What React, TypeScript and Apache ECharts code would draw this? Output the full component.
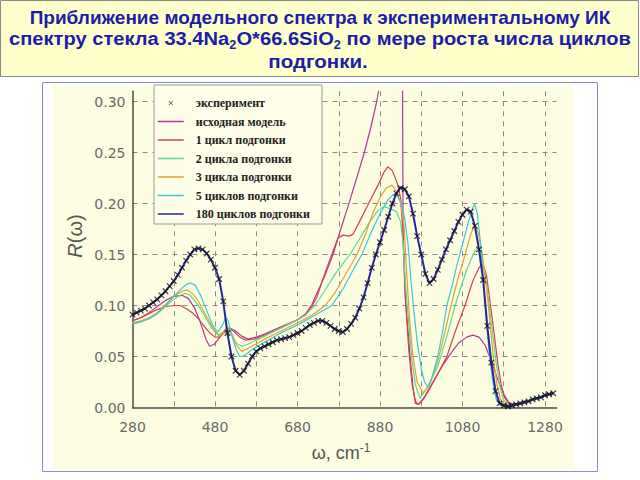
import React, { useEffect, useRef } from "react";
import * as echarts from "echarts";

// ---- data ----
const xTicks = [280, 480, 680, 880, 1080, 1280];
const yTicks = [0, 0.05, 0.1, 0.15, 0.2, 0.25, 0.3];

const seriesNames = [
  "эксперимент",
  "исходная модель",
  "1 цикл подгонки",
  "2 цикла подгонки",
  "3 цикла подгонки",
  "5 циклов подгонки",
  "180 циклов подгонки",
];

const expX = [
  280, 290, 300, 310, 320, 330, 340, 350, 360, 370, 380, 390, 400, 410, 420, 430, 440, 450, 460, 470,
  480, 490, 500, 510, 520, 530, 540, 550, 560, 570, 580, 590, 600, 610, 620, 630, 640, 650, 660, 670,
  680, 690, 700, 710, 720, 730, 740, 750, 760, 770, 780, 790, 800, 810, 820, 830, 840, 850, 860, 870,
  880, 890, 900, 910, 920, 930, 940, 950, 960, 970, 980, 990, 1000, 1010, 1020, 1030, 1040, 1050, 1060, 1070,
  1080, 1090, 1100, 1110, 1120, 1130, 1140, 1150, 1160, 1170, 1180, 1190, 1200, 1210, 1220, 1230, 1240, 1250, 1260, 1270,
  1280, 1290, 1300,
];

const expR = [
  0.091, 0.093, 0.095, 0.097, 0.1, 0.103, 0.106, 0.11, 0.114, 0.119, 0.124, 0.13, 0.137, 0.144, 0.15, 0.155, 0.156, 0.155, 0.151, 0.145,
  0.137, 0.126, 0.104, 0.073, 0.05, 0.036, 0.032, 0.036, 0.043, 0.05, 0.055, 0.058, 0.06, 0.062, 0.064, 0.066, 0.067, 0.068, 0.069, 0.071,
  0.073, 0.075, 0.078, 0.081, 0.083, 0.085, 0.085, 0.083, 0.08, 0.077, 0.075, 0.074, 0.077, 0.082, 0.088, 0.097, 0.108, 0.122, 0.137, 0.15,
  0.162, 0.174, 0.187, 0.2, 0.21, 0.215, 0.214, 0.207, 0.19, 0.168, 0.15, 0.131, 0.122, 0.126, 0.135, 0.145, 0.155, 0.164, 0.173, 0.182,
  0.189, 0.194, 0.192, 0.178, 0.155, 0.125, 0.08, 0.044, 0.016, 0.004, 0.002, 0.001, 0.002, 0.003, 0.004, 0.005, 0.006, 0.008, 0.009, 0.01,
  0.012, 0.013, 0.014,
];

const fit180R = [
  0.091, 0.093, 0.095, 0.097, 0.1, 0.103, 0.106, 0.11, 0.114, 0.119, 0.124, 0.13, 0.137, 0.144, 0.15, 0.155, 0.156, 0.155, 0.151, 0.145,
  0.137, 0.126, 0.104, 0.073, 0.05, 0.036, 0.032, 0.036, 0.043, 0.05, 0.055, 0.058, 0.06, 0.062, 0.064, 0.066, 0.067, 0.068, 0.069, 0.071,
  0.073, 0.075, 0.078, 0.081, 0.083, 0.085, 0.085, 0.083, 0.08, 0.077, 0.075, 0.074, 0.077, 0.082, 0.088, 0.097, 0.108, 0.122, 0.137, 0.15,
  0.162, 0.174, 0.187, 0.2, 0.21, 0.216, 0.214, 0.207, 0.19, 0.168, 0.15, 0.131, 0.122, 0.126, 0.135, 0.145, 0.155, 0.164, 0.173, 0.182,
  0.189, 0.194, 0.192, 0.178, 0.155, 0.125, 0.08, 0.044, 0.016, 0.004, 0.002, 0.001, 0.002, 0.003, 0.004, 0.005, 0.006, 0.008, 0.009, 0.01,
  0.012, 0.013, 0.014,
];

const initialModel = [
  [280, 0.085], [300, 0.088], [320, 0.093], [340, 0.099], [360, 0.105], [380, 0.109], [400, 0.11], [415, 0.107],
  [430, 0.098], [445, 0.083], [458, 0.067], [467, 0.06], [478, 0.062], [490, 0.068], [503, 0.075], [516, 0.078],
  [530, 0.075], [545, 0.07], [560, 0.067], [580, 0.069], [600, 0.072], [640, 0.079], [680, 0.086], [700, 0.092],
  [715, 0.101], [727, 0.112], [745, 0.128], [766, 0.15], [785, 0.175], [807, 0.203], [825, 0.227], [842, 0.25],
  [858, 0.275], [872, 0.3], [885, 0.33], [905, 0.37], [925, 0.4], [934, 0.38], [936, 0.17], [942, 0.105],
  [953, 0.05], [960, 0.02], [966, 0.004], [975, 0.003], [990, 0.012], [1010, 0.026], [1030, 0.04], [1050, 0.052],
  [1070, 0.063], [1090, 0.069], [1105, 0.071], [1120, 0.069], [1135, 0.061], [1150, 0.045], [1165, 0.028], [1180, 0.013],
  [1192, 0.005], [1205, 0.003], [1230, 0.006], [1260, 0.009], [1300, 0.014],
];

const fit1 = [
  [280, 0.085], [300, 0.088], [320, 0.092], [340, 0.096], [360, 0.099], [380, 0.1], [395, 0.1], [410, 0.097],
  [425, 0.093], [440, 0.087], [455, 0.079], [468, 0.073], [480, 0.069], [490, 0.069], [502, 0.073], [514, 0.077],
  [525, 0.075], [540, 0.069], [555, 0.066], [575, 0.067], [600, 0.071], [640, 0.078], [680, 0.086], [700, 0.091],
  [715, 0.099], [727, 0.108], [745, 0.13], [763, 0.15], [778, 0.166], [790, 0.169], [805, 0.168], [815, 0.17],
  [830, 0.182], [850, 0.198], [875, 0.218], [890, 0.231], [899, 0.236], [910, 0.232], [922, 0.22], [930, 0.205],
  [935, 0.175], [941, 0.11], [950, 0.055], [958, 0.022], [966, 0.006], [972, 0.003], [985, 0.008], [1000, 0.018],
  [1020, 0.033], [1042, 0.05], [1062, 0.074], [1086, 0.1], [1105, 0.124], [1120, 0.137], [1129, 0.141], [1138, 0.13],
  [1148, 0.1], [1158, 0.068], [1166, 0.042], [1174, 0.022], [1182, 0.01], [1192, 0.004], [1205, 0.003], [1230, 0.006],
  [1260, 0.009], [1300, 0.014],
];

const fit2 = [
  [280, 0.082], [300, 0.084], [320, 0.087], [340, 0.092], [360, 0.099], [380, 0.106], [395, 0.11], [408, 0.112],
  [420, 0.11], [440, 0.1], [460, 0.086], [475, 0.076], [490, 0.07], [500, 0.073], [510, 0.077], [520, 0.071],
  [532, 0.063], [545, 0.06], [560, 0.062], [600, 0.07], [640, 0.078], [680, 0.086], [700, 0.091], [722, 0.1],
  [745, 0.114], [770, 0.13], [790, 0.141], [807, 0.15], [830, 0.165], [855, 0.182], [875, 0.193], [890, 0.197],
  [905, 0.195], [920, 0.192], [930, 0.182], [936, 0.16], [942, 0.12], [950, 0.08], [958, 0.045], [966, 0.022],
  [977, 0.009], [995, 0.02], [1020, 0.04], [1042, 0.07], [1062, 0.1], [1090, 0.135], [1108, 0.152], [1117, 0.157],
  [1125, 0.15], [1135, 0.13], [1143, 0.105], [1151, 0.08], [1161, 0.045], [1171, 0.02], [1180, 0.007], [1190, 0.003],
  [1205, 0.002], [1230, 0.005], [1260, 0.009], [1300, 0.015],
];

const fit3 = [
  [280, 0.083], [300, 0.085], [320, 0.088], [340, 0.093], [360, 0.101], [380, 0.109], [400, 0.114], [412, 0.115],
  [425, 0.112], [440, 0.104], [460, 0.089], [475, 0.078], [488, 0.071], [500, 0.074], [510, 0.079], [520, 0.073],
  [532, 0.061], [545, 0.055], [560, 0.058], [600, 0.067], [640, 0.075], [690, 0.085], [720, 0.092], [747, 0.1],
  [770, 0.112], [790, 0.126], [810, 0.14], [824, 0.15], [845, 0.17], [862, 0.19], [880, 0.206], [895, 0.215],
  [909, 0.218], [920, 0.212], [930, 0.2], [938, 0.18], [945, 0.13], [952, 0.085], [960, 0.05], [970, 0.025],
  [985, 0.014], [1000, 0.022], [1020, 0.045], [1038, 0.075], [1052, 0.1], [1068, 0.125], [1085, 0.148], [1100, 0.17],
  [1110, 0.179], [1118, 0.172], [1128, 0.15], [1138, 0.118], [1147, 0.083], [1155, 0.048], [1163, 0.024], [1172, 0.008],
  [1182, 0.003], [1200, 0.002], [1230, 0.005], [1260, 0.009], [1300, 0.015],
];

const fit5 = [
  [280, 0.082], [300, 0.084], [320, 0.087], [340, 0.092], [360, 0.1], [380, 0.109], [400, 0.117], [412, 0.121],
  [421, 0.122], [432, 0.12], [445, 0.11], [460, 0.095], [475, 0.08], [487, 0.074], [497, 0.08], [506, 0.088],
  [512, 0.085], [520, 0.072], [530, 0.058], [540, 0.05], [552, 0.051], [570, 0.057], [600, 0.064], [640, 0.073],
  [685, 0.082], [720, 0.09], [763, 0.1], [790, 0.116], [815, 0.135], [836, 0.15], [860, 0.173], [880, 0.19],
  [900, 0.204], [916, 0.21], [930, 0.203], [940, 0.185], [948, 0.16], [955, 0.125], [962, 0.095], [970, 0.065],
  [980, 0.038], [988, 0.025], [996, 0.02], [1005, 0.028], [1020, 0.05], [1032, 0.075], [1042, 0.1], [1055, 0.12],
  [1068, 0.142], [1082, 0.163], [1095, 0.183], [1105, 0.196], [1110, 0.199], [1116, 0.19], [1124, 0.16], [1131, 0.125],
  [1138, 0.085], [1145, 0.052], [1154, 0.024], [1162, 0.008], [1172, 0.002], [1190, 0.001], [1210, 0.003], [1240, 0.007],
  [1270, 0.011], [1300, 0.015],
];

const lineColors = ["#b5369c", "#d6404e", "#62d88e", "#e2a12e", "#3ec6d8", "#26269a"];

// ---- chart ----
const TITLE_COLOR = "#1d1da8";
const SANS = "'Liberation Sans', Arial, sans-serif";
const TICK_FONT = "'DejaVu Sans', sans-serif";

const isOn = (v: number, list: number[]) => list.some((t) => Math.abs(t - v) < 1e-6);

function buildOption() {
  const expData = expX.map((x, i) => [x, expR[i]]);
  const fit180Data = expX.map((x, i) => [x, fit180R[i]]);
  const modelSets = [initialModel, fit1, fit2, fit3, fit5, fit180Data];

  const titleRich = {
    n: { fontSize: 19, fontWeight: "bold", fontFamily: SANS, fill: TITLE_COLOR, verticalAlign: "bottom", padding: [0, 0, 3, 0] },
    s: { fontSize: 12, fontWeight: "bold", fontFamily: SANS, fill: TITLE_COLOR, verticalAlign: "bottom" },
  };

  const lineSeries = modelSets.map((d, i) => ({
    name: seriesNames[i + 1],
    type: "line",
    data: d,
    symbol: "none",
    clip: true,
    z: i === 5 ? 3 : 2,
    lineStyle: { color: lineColors[i], width: i === 5 ? 2 : 1.2 },
    itemStyle: { color: lineColors[i] },
  }));

  const crossPath = "path://M0,0L10,10M10,0L0,10";
  const crossLegend = "path://M0,0L0,0M3,3L7,7M7,3L3,7M10,10L10,10";
  const lineLegend = "path://M0,0L0,0M0,5L26,5M26,10L26,10";

  return {
    animation: false,
    backgroundColor: "#ffffff",
    graphic: [
      { type: "rect", z: -20, shape: { x: 0.5, y: 0.5, width: 638, height: 76 }, style: { fill: "#ffffcc", stroke: "#8a8a8a", lineWidth: 1 } },
      {
        type: "text", x: 320, y: 17,
        style: { text: "Приближение модельного спектра к экспериментальному ИК", align: "center", verticalAlign: "middle", fontSize: 19, fontWeight: "bold", fontFamily: SANS, fill: TITLE_COLOR },
      },
      {
        type: "text", x: 320, y: 40, scaleX: 1.06,
        style: {
          text: "{n|спектру стекла 33.4Na}{s|2}{n|O*66.6SiO}{s|2}{n| по мере роста числа циклов}",
          align: "center", verticalAlign: "middle", rich: titleRich,
        },
      },
      {
        type: "text", x: 318, y: 61, scaleX: 1.08,
        style: { text: "подгонки.", align: "center", verticalAlign: "middle", fontSize: 19, fontWeight: "bold", fontFamily: SANS, fill: TITLE_COLOR },
      },
      { type: "rect", z: -20, shape: { x: 42.5, y: 82.5, width: 555, height: 389 }, style: { fill: "#ffffff", stroke: "#8c8cd6", lineWidth: 1 } },
      { type: "rect", z: -19, shape: { x: 53, y: 85, width: 520, height: 384 }, style: { fill: "#fdfde2" } },
      {
        type: "text", x: 75, y: 236, rotation: Math.PI / 2,
        style: {
          text: "{i|R}{n|(ω)}", align: "center", verticalAlign: "middle",
          rich: {
            i: { fontSize: 20, fontStyle: "italic", fontFamily: SANS, fill: "#555555" },
            n: { fontSize: 20, fontFamily: SANS, fill: "#555555" },
          },
        },
      },
      {
        type: "text", x: 341, y: 452,
        style: {
          text: "{n|ω, cm}{p|-1}", align: "center", verticalAlign: "middle",
          rich: {
            n: { fontSize: 18, fontFamily: SANS, fill: "#555555", verticalAlign: "top", padding: [2, 0, 0, 0] },
            p: { fontSize: 12, fontFamily: SANS, fill: "#555555", verticalAlign: "top" },
          },
        },
      },
    ],
    legend: {
      orient: "vertical",
      left: 154,
      top: 85,
      padding: [12, 12, 4, 3],
      itemWidth: 26,
      itemHeight: 10,
      itemGap: 6.5,
      selectedMode: false,
      backgroundColor: "#fefee9",
      borderColor: "#9a9a9a",
      borderWidth: 1,
      textStyle: { fontFamily: "'Liberation Serif', 'Times New Roman', serif", fontWeight: "bold", fontSize: 12, color: "#222222", padding: [0, 0, 0, 7] },
      data: [
        { name: seriesNames[0], icon: crossLegend, itemStyle: { color: "rgba(0,0,0,0)", borderColor: "#333333", borderWidth: 1 } },
        ...seriesNames.slice(1).map((n, i) => ({
          name: n,
          icon: lineLegend,
          itemStyle: { color: "rgba(0,0,0,0)", borderColor: lineColors[i], borderWidth: 1.5 },
        })),
      ],
    },
    grid: { left: 132.5, top: 91.3, right: 83.45, bottom: 72.5, containLabel: false },
    xAxis: {
      type: "value",
      min: 280,
      max: 1308,
      interval: 100,
      axisLine: { lineStyle: { color: "#4a4a4a", width: 1.5 } },
      axisTick: { show: false },
      axisLabel: {
        formatter: (v: number) => (isOn(v, xTicks) ? String(v) : ""),
        margin: 12,
        fontSize: 14,
        fontFamily: TICK_FONT,
        color: "#6a6a6a",
      },
      splitLine: { show: true, showMinLine: false, showMaxLine: false, lineStyle: { type: [5, 5], color: "#8a8a8a", width: 1 } },
    },
    yAxis: {
      type: "value",
      min: 0,
      max: 0.31,
      interval: 0.05,
      axisLine: { show: true, lineStyle: { color: "#4a4a4a", width: 1.5 } },
      axisTick: { show: false },
      axisLabel: {
        formatter: (v: number) => (isOn(v, yTicks) ? v.toFixed(2) : ""),
        margin: 7,
        fontSize: 14,
        fontFamily: TICK_FONT,
        color: "#6a6a6a",
      },
      splitLine: { show: true, showMinLine: false, showMaxLine: false, lineStyle: { type: [5, 5], color: "#8a8a8a", width: 1 } },
    },
    series: [
      {
        name: seriesNames[0],
        type: "scatter",
        data: expData,
        symbol: crossPath,
        symbolSize: 5.5,
        z: 5,
        itemStyle: { color: "rgba(0,0,0,0)", borderColor: "#111111", borderWidth: 1.2 },
      },
      ...lineSeries,
    ],
  };
}

export default function App() {
  const ref = useRef<HTMLDivElement>(null);
  useEffect(() => {
    if (!ref.current) return;
    const chart = echarts.init(ref.current, null, { renderer: "svg" });
    chart.setOption(buildOption() as any);
    return () => chart.dispose();
  }, []);
  return <div ref={ref} style={{ position: "fixed", left: 0, top: 0, width: 640, height: 480 }} />;
}
